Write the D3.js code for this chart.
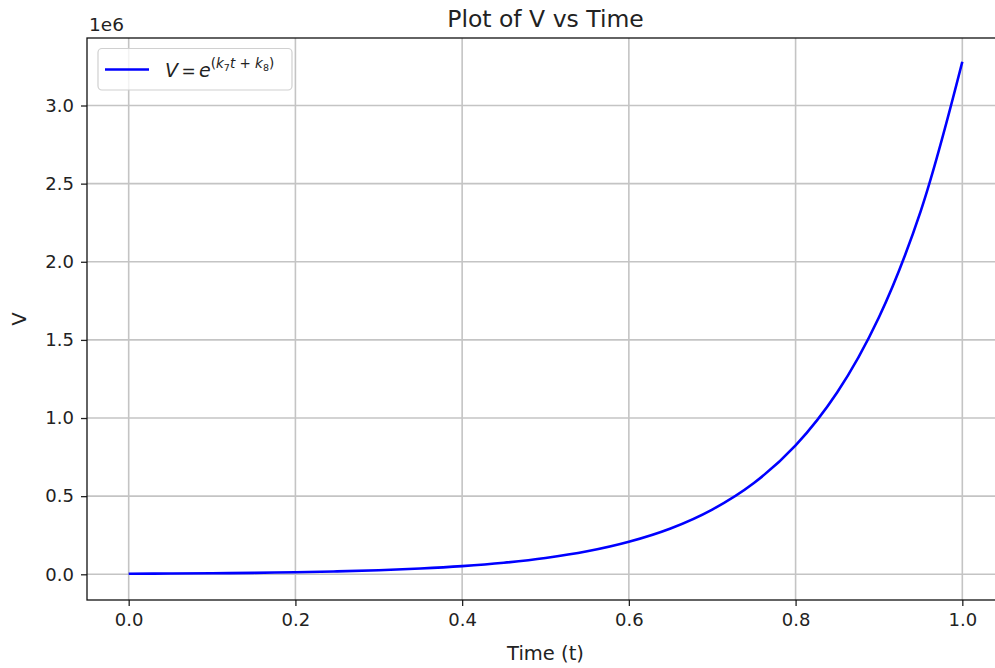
<!DOCTYPE html>
<html>
<head>
<meta charset="utf-8">
<script src="https://cdn.jsdelivr.net/npm/d3@7"></script>
<style>
  body { margin: 0; background: #fff; }
  text { font-family: "DejaVu Sans", sans-serif; fill: #222; }
</style>
</head>
<body>
<script>
// values (t, V)
var times = [0, 0.05, 0.1, 0.15, 0.2, 0.25, 0.3, 0.35, 0.4, 0.45, 0.5,
             0.55, 0.6, 0.65, 0.7, 0.75, 0.8, 0.85, 0.9, 0.95, 1.0];
var vals = [3300, 4700, 6600, 9300, 13100, 18500, 26200, 37000, 52200, 73700, 104000,
            147000, 208000, 293000, 414000, 584000, 825000, 1165000, 1645000, 2323000, 3280000];
var xTicks = [0, 0.2, 0.4, 0.6, 0.8, 1.0];
var yTicks = [0, 500000, 1000000, 1500000, 2000000, 2500000, 3000000];

var w = 995;
var h = 668;
var pL = 87, pR = 1004, pT = 38, pB = 600; // plot box

var ds = [];
for (var i = 0; i < times.length; i++) {
  ds.push({t: times[i], v: vals[i]});
}

var x = d3.scaleLinear().domain([-0.05, 1.05]).range([pL, pR]);
var y = d3.scaleLinear().domain([-164500, 3432000]).range([pB, pT]);

var svg = d3.select("body")
.append("svg")
.attr("width", w)
.attr("height", h);

svg.append("clipPath").attr("id", "clip")
.append("rect")
.attr("x", pL).attr("y", pT)
.attr("width", pR - pL).attr("height", pB - pT);

// grid
svg.append("g")
.selectAll("line")
.data(xTicks)
.enter()
.append("line")
.attr("x1", function(d) { return x(d); })
.attr("x2", function(d) { return x(d); })
.attr("y1", pT).attr("y2", pB)
.attr("stroke", "#c4c4c4")
.attr("stroke-width", 1.6);

svg.append("g")
.selectAll("line")
.data(yTicks)
.enter()
.append("line")
.attr("y1", function(d) { return y(d); })
.attr("y2", function(d) { return y(d); })
.attr("x1", pL).attr("x2", pR)
.attr("stroke", "#c4c4c4")
.attr("stroke-width", 1.6);

// axes
var xAxis = d3.axisBottom(x).tickValues(xTicks).tickSize(6).tickPadding(7)
.tickFormat(d3.format(".1f"));
var yAxis = d3.axisLeft(y).tickValues(yTicks).tickSize(6).tickPadding(7)
.tickFormat(function(d) { return d3.format(".1f")(d / 1e6); });

var gx = svg.append("g").attr("transform", "translate(0," + pB + ")").call(xAxis);
var gy = svg.append("g").attr("transform", "translate(" + pL + ",0)").call(yAxis);
[gx, gy].forEach(function(g) {
  g.select(".domain").remove();
  g.selectAll(".tick line").attr("stroke", "#222").attr("stroke-width", 1.3);
  g.selectAll(".tick text").attr("font-size", "18px").attr("fill", "#222")
   .attr("font-family", "DejaVu Sans, sans-serif");
});

// line
var line = d3.line()
.x(function(d) { return x(d.t); })
.y(function(d) { return y(d.v); })
.curve(d3.curveCatmullRom);

svg.append("path")
.datum(ds)
.attr("clip-path", "url(#clip)")
.attr("d", line)
.attr("fill", "none")
.attr("stroke", "blue")
.attr("stroke-width", 2.6);

// spines
svg.append("rect")
.attr("x", pL).attr("y", pT)
.attr("width", pR - pL).attr("height", pB - pT)
.attr("fill", "none")
.attr("stroke", "#111")
.attr("stroke-width", 1.3);

// texts
svg.append("text")
.attr("x", (pL + pR) / 2).attr("y", 27)
.attr("text-anchor", "middle")
.attr("font-size", "23.5px")
.text("Plot of V vs Time");

svg.append("text")
.attr("x", (pL + pR) / 2).attr("y", 660)
.attr("text-anchor", "middle")
.attr("font-size", "19.5px")
.text("Time (t)");

svg.append("text")
.attr("transform", "translate(26," + ((pT + pB) / 2) + ") rotate(-90)")
.attr("text-anchor", "middle")
.attr("font-size", "19.5px")
.text("V");

svg.append("text")
.attr("x", pL + 2).attr("y", 31)
.attr("font-size", "18.5px")
.text("1e6");

// legend
svg.append("rect")
.attr("x", 98).attr("y", 48.5)
.attr("width", 194).attr("height", 41.5)
.attr("rx", 4)
.attr("fill", "white").attr("fill-opacity", 0.8)
.attr("stroke", "#d0d0d0").attr("stroke-width", 1.2);

svg.append("line")
.attr("x1", 105).attr("x2", 149)
.attr("y1", 69.5).attr("y2", 69.5)
.attr("stroke", "blue").attr("stroke-width", 2.6);

var lt = svg.append("text")
.attr("x", 165).attr("y", 77)
.attr("font-size", "19px");
lt.append("tspan").attr("font-style", "italic").text("V");
lt.append("tspan").attr("font-size", "17px").text("\u2009=\u2009");
lt.append("tspan").attr("font-style", "italic").text("e");
var sup = lt.append("tspan").attr("dy", -9).attr("font-size", "13.5px");
sup.append("tspan").text("(");
sup.append("tspan").attr("font-style", "italic").text("k");
sup.append("tspan").attr("font-size", "9.5px").attr("dy", 3).text("7");
sup.append("tspan").attr("font-style", "italic").attr("dy", -3).text("t");
sup.append("tspan").text(" + ");
sup.append("tspan").attr("font-style", "italic").text("k");
sup.append("tspan").attr("font-size", "9.5px").attr("dy", 3).text("8");
sup.append("tspan").attr("dy", -3).text(")");
</script>
</body>
</html>
